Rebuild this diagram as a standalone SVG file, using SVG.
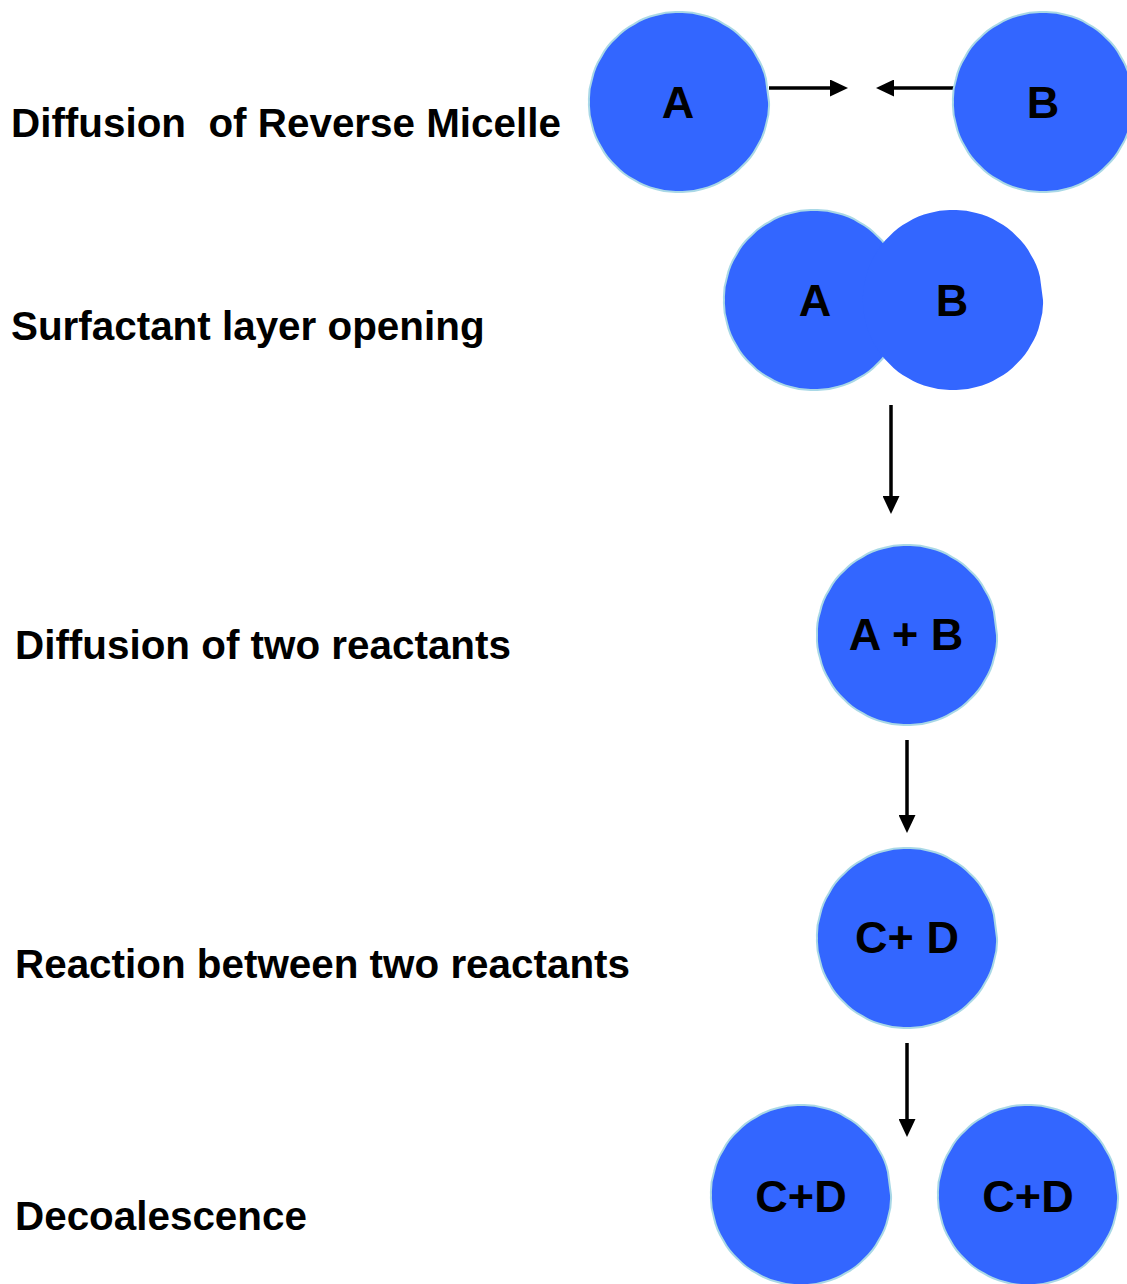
<svg xmlns="http://www.w3.org/2000/svg" xmlns:xlink="http://www.w3.org/1999/xlink" width="1127" height="1284" viewBox="0 0 1127 1284">
  <style>
    .stage { font-family: "Liberation Sans", Arial, sans-serif; font-weight: bold; font-size: 40.4px; fill: #000; }
    .tag { font-family: "Liberation Sans", Arial, sans-serif; font-weight: bold; font-size: 45px; fill: #000; text-anchor: middle; }
    .drop { fill: #3366FF; stroke: #A9D8E6; stroke-width: 2; }
    .drop-bare { fill: #3366FF; stroke: none; }
    .link { stroke: #000; stroke-width: 3.5; fill: none; marker-end: url(#head); }
  </style>
  <defs>
    <!-- reverse micelle outline: r=90 with a faintly scalloped rim -->
    <path id="micelle" d="M90,0 A65,65 0 0 1 86.93,23.29 A65,65 0 0 1 77.94,45 A65,65 0 0 1 63.64,63.64 A65,65 0 0 1 45,77.94 A65,65 0 0 1 23.29,86.93 A65,65 0 0 1 0,90 A65,65 0 0 1 -23.29,86.93 A65,65 0 0 1 -45,77.94 A65,65 0 0 1 -63.64,63.64 A65,65 0 0 1 -77.94,45 A65,65 0 0 1 -86.93,23.29 A65,65 0 0 1 -90,0 A65,65 0 0 1 -86.93,-23.29 A65,65 0 0 1 -77.94,-45 A65,65 0 0 1 -63.64,-63.64 A65,65 0 0 1 -45,-77.94 A65,65 0 0 1 -23.29,-86.93 A65,65 0 0 1 0,-90 A65,65 0 0 1 23.29,-86.93 A65,65 0 0 1 45,-77.94 A65,65 0 0 1 63.64,-63.64 A65,65 0 0 1 77.94,-45 A65,65 0 0 1 86.93,-23.29 Z"/>
    <marker id="head" markerUnits="userSpaceOnUse" markerWidth="18" markerHeight="17" viewBox="0 0 18 17" refX="8" refY="8.5" orient="auto">
      <path d="M0,0 L18,8.5 L0,17 Z" fill="#000"/>
    </marker>
  </defs>

  <rect width="1127" height="1284" fill="#fff"/>

  <!-- stage captions -->
  <g id="captions">
    <text class="stage" x="11" y="137" xml:space="preserve">Diffusion  of Reverse Micelle</text>
    <text class="stage" x="11" y="340">Surfactant layer opening</text>
    <text class="stage" x="15" y="659">Diffusion of two reactants</text>
    <text class="stage" x="15" y="978">Reaction between two reactants</text>
    <text class="stage" x="15" y="1230">Decoalescence</text>
  </g>

  <!-- connectors -->
  <g id="connectors">
    <line class="link" x1="769" y1="88" x2="838" y2="88"/>
    <line class="link" x1="955" y1="88" x2="886" y2="88"/>
    <line class="link" x1="891" y1="405" x2="891" y2="504"/>
    <line class="link" x1="907" y1="740" x2="907" y2="823"/>
    <line class="link" x1="907" y1="1043" x2="907" y2="1127"/>
  </g>

  <!-- stage 1: two separate micelles -->
  <g id="micelle-a">
    <use xlink:href="#micelle" class="drop" x="679" y="102"/>
    <text class="tag" x="678" y="118">A</text>
  </g>
  <g id="micelle-b">
    <use xlink:href="#micelle" class="drop" x="1043" y="102"/>
    <text class="tag" x="1043" y="118">B</text>
  </g>

  <!-- stage 2: fused pair with opening surfactant layer -->
  <g id="fused-pair">
    <use xlink:href="#micelle" class="drop" x="814" y="300"/>
    <use xlink:href="#micelle" class="drop-bare" x="953" y="300"/>
    <text class="tag" x="815" y="316">A</text>
    <text class="tag" x="952" y="316">B</text>
  </g>

  <!-- stage 3: mixed reactants -->
  <g id="mixed">
    <use xlink:href="#micelle" class="drop" x="907" y="635"/>
    <text class="tag" x="906" y="650" xml:space="preserve">A + B</text>
  </g>

  <!-- stage 4: products -->
  <g id="products">
    <use xlink:href="#micelle" class="drop" x="907" y="938"/>
    <text class="tag" x="907" y="953" xml:space="preserve">C+ D</text>
  </g>

  <!-- stage 5: separated product micelles -->
  <g id="product-left">
    <use xlink:href="#micelle" class="drop" x="801" y="1195"/>
    <text class="tag" x="801" y="1212">C+D</text>
  </g>
  <g id="product-right">
    <use xlink:href="#micelle" class="drop" x="1028" y="1195"/>
    <text class="tag" x="1028" y="1212">C+D</text>
  </g>
</svg>
